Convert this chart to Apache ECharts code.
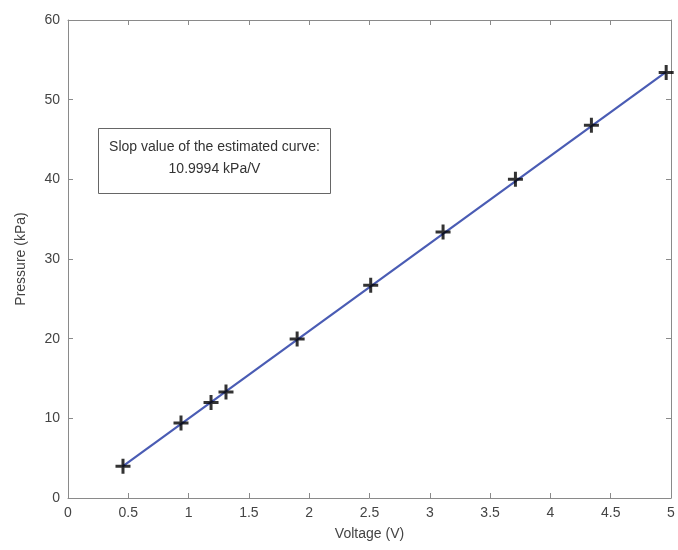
<!DOCTYPE html>
<html>
<head>
<meta charset="utf-8">
<script src="https://cdn.jsdelivr.net/npm/echarts@6/dist/echarts.min.js"></script>
<style>
  html, body { margin: 0; padding: 0; background: #fff; }
  #chart { width: 678px; height: 550px; }
</style>
</head>
<body>
<div id="chart"></div>
<script>
// measured points
const voltage = [0.456, 0.937, 1.186, 1.31, 1.90, 2.51, 3.11, 3.71, 4.34, 4.96];
const pressure = [4.0, 9.4, 12.0, 13.3, 19.95, 26.7, 33.4, 40.0, 46.8, 53.4];

// end points of the fitted line
const fitVoltage = [0.45, 4.96];
const fitPressure = [3.95, 53.5];

const noteLines = ['Slop value of the estimated curve:', '10.9994 kPa/V'];

const chart = echarts.init(document.getElementById('chart'));

const textColor = '#444';
const axisColor = '#8a8a8a';
const plusPath = 'path://M4,0H6V4H10V6H6V10H4V6H0V4H4Z';
const font = 'Liberation Sans, Arial, sans-serif';

const boxAxis = (extra) => Object.assign({
  type: 'value',
  axisLine: { show: true, onZero: false, lineStyle: { color: axisColor, width: 1 } },
  axisTick: { show: true, inside: true, length: 5, lineStyle: { color: axisColor } },
  splitLine: { show: false },
}, extra);

chart.setOption({
  animation: false,
  textStyle: { fontFamily: font },
  grid: { left: 68, right: 7, top: 20, bottom: 52 },
  xAxis: [
    boxAxis({
      min: 0, max: 5, interval: 0.5,
      name: 'Voltage (V)', nameLocation: 'middle', nameGap: 29,
      nameTextStyle: { color: textColor, fontSize: 14 },
      axisLabel: { color: textColor, fontSize: 14, margin: 8 },
    }),
    boxAxis({
      position: 'top', min: 0, max: 5, interval: 0.5,
      axisLabel: { show: false },
    }),
  ],
  yAxis: [
    boxAxis({
      min: 0, max: 60, interval: 10,
      name: 'Pressure (kPa)', nameLocation: 'middle', nameGap: 40,
      nameTextStyle: { color: textColor, fontSize: 14 },
      axisLabel: { color: textColor, fontSize: 14, margin: 8 },
    }),
    boxAxis({
      position: 'right', min: 0, max: 60, interval: 10,
      axisLabel: { show: false },
    }),
  ],
  series: [
    {
      name: 'Fit',
      type: 'line',
      data: fitVoltage.map((v, i) => [v, fitPressure[i]]),
      showSymbol: false,
      lineStyle: { color: '#4a5cb4', width: 2.2 },
      z: 2,
    },
    {
      name: 'Measured',
      type: 'scatter',
      data: voltage.map((v, i) => [v, pressure[i]]),
      symbol: plusPath,
      symbolSize: 15,
      itemStyle: { color: '#000' },
      z: 3,
    },
  ],
  graphic: [
    {
      type: 'group',
      left: 98,
      top: 128,
      children: [
        {
          type: 'rect',
          shape: { x: 0, y: 0, width: 232, height: 65 },
          style: { fill: '#fff', stroke: '#666', lineWidth: 1 },
        },
        {
          type: 'text',
          x: 116, y: 19,
          style: {
            text: noteLines[0], fill: '#333', fontSize: 14,
            align: 'center', verticalAlign: 'middle', fontFamily: font,
          },
        },
        {
          type: 'text',
          x: 116, y: 41,
          style: {
            text: noteLines[1], fill: '#333', fontSize: 14,
            align: 'center', verticalAlign: 'middle', fontFamily: font,
          },
        },
      ],
    },
  ],
});
</script>
</body>
</html>
